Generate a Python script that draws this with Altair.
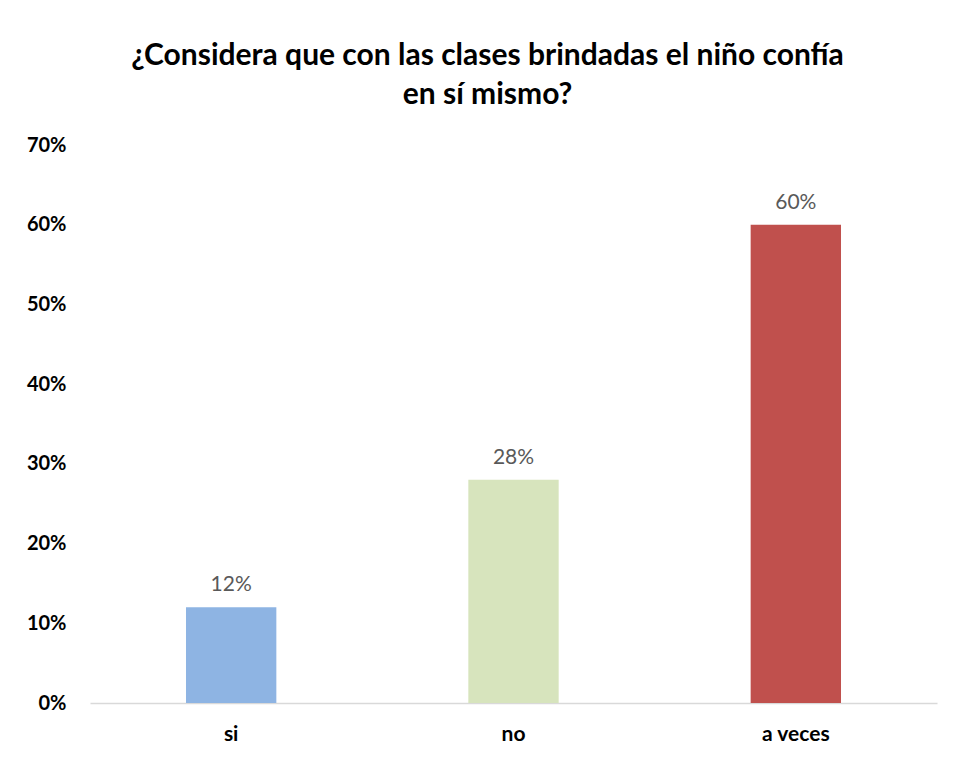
import altair as alt
import pandas as pd

categories = ["si", "no", "a veces"]
values = [0.12, 0.28, 0.60]
colors = ["#8EB4E3", "#D7E4BD", "#C0504D"]

df = pd.DataFrame({"cat": categories, "val": values, "color": colors})

FONT = "Lato"

x = alt.X("cat:N", sort=categories, title=None,
          scale=alt.Scale(paddingInner=0.68, paddingOuter=0.34),
          axis=alt.Axis(labelAngle=0, labelFontWeight="bold", labelFontSize=21,
                        labelColor="#000000", labelPadding=20, ticks=False,
                        domainColor="#D9D9D9", domainWidth=1.5, labelFont=FONT))
y = alt.Y("val:Q", title=None,
          scale=alt.Scale(domain=[0, 0.7]),
          axis=alt.Axis(format=".0%", values=[0, 0.1, 0.2, 0.3, 0.4, 0.5, 0.6, 0.7],
                        grid=False, domain=False, ticks=False, labelFontWeight="bold",
                        labelFontSize=20, labelColor="#000000", labelPadding=24,
                        labelFont=FONT))

bars = alt.Chart(df).mark_bar().encode(
    x=x, y=y, color=alt.Color("color:N", scale=None)
)
labels = alt.Chart(df).mark_text(baseline="bottom", dy=-12, fontSize=21,
                                 color="#595959", font=FONT).encode(
    x=alt.X("cat:N", sort=categories), y="val:Q",
    text=alt.Text("val:Q", format=".0%")
)

chart = alt.layer(bars, labels).properties(
    width=847, height=558,
    title=alt.Title(["¿Considera que con las clases brindadas el niño confía", "en sí mismo?"],
                    fontSize=30, fontWeight="bold", font=FONT, color="#000000",
                    anchor="middle", dx=-26, offset=25, lineHeight=39),
    autosize=alt.AutoSizeParams(type="none"),
    padding={"left": 82, "top": 137, "right": 8, "bottom": 50},
).configure(background="white").configure_view(strokeWidth=0, stroke=None)

chart.save("out.html", embed_options={"renderer": "svg", "actions": False})
